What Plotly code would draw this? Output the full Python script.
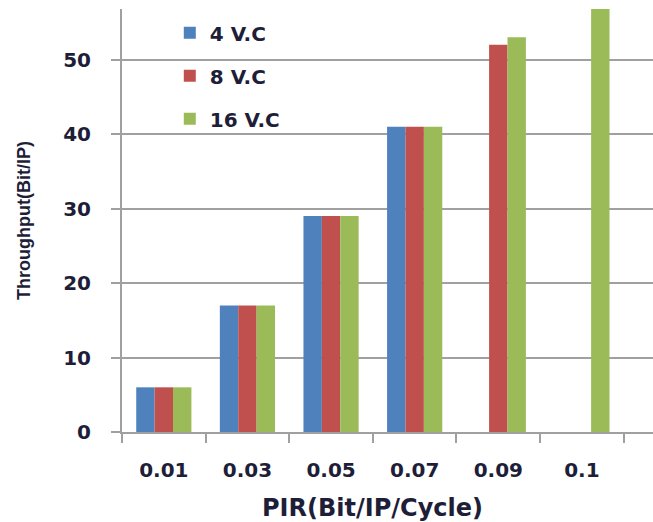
import plotly.graph_objects as go

# PIR categories and throughput per virtual-channel configuration
categories = ["0.01", "0.03", "0.05", "0.07", "0.09", "0.1"]
vc4 = [6, 17, 29, 41, None, None]
vc8 = [6, 17, 29, 41, 52, None]
vc16 = [6, 17, 29, 41, 53, 58]
y_ticks = [0, 10, 20, 30, 40, 50]

series = [
    ("4 V.C", vc4, "#4F81BD"),
    ("8 V.C", vc8, "#C0504D"),
    ("16 V.C", vc16, "#9BBB59"),
]

text_color = "#1e1e38"
axis_gray = "#a0a0a0"

fig = go.Figure()
for name, vals, color in series:
    fig.add_trace(go.Bar(
        x=categories, y=vals, name=name, legendgroup=name,
        marker=dict(color=color, line=dict(width=0)),
    ))

fig.update_layout(
    width=653, height=522,
    margin=dict(l=122, r=0, t=9, b=90),
    paper_bgcolor="white", plot_bgcolor="white",
    barmode="group", bargap=0.34, bargroupgap=0,
    font=dict(family="DejaVu Sans", color=text_color),
    showlegend=True,
    legend=dict(
        x=0.09, y=0.99, xanchor="left", yanchor="top",
        bgcolor="rgba(0,0,0,0)",
        traceorder="grouped", tracegroupgap=14,
        font=dict(size=20, family="DejaVu Sans", weight="bold", color=text_color),
        itemwidth=30,
    ),
)

fig.update_xaxes(
    type="category",
    range=[-0.5, 5.85],
    tickson="boundaries",
    ticks="outside", ticklen=9, tickwidth=2, tickcolor=axis_gray,
    showline=True, linecolor=axis_gray, linewidth=2,
    showgrid=False,
    ticklabelstandoff=19,
    tickfont=dict(size=20, family="DejaVu Sans", weight="bold", color=text_color),
)

fig.update_yaxes(
    range=[0, 56.8],
    tickvals=y_ticks,
    ticks="outside", ticklen=9, tickwidth=2, tickcolor=axis_gray,
    showline=True, linecolor=axis_gray, linewidth=2,
    showgrid=True, gridcolor=axis_gray, gridwidth=2,
    zeroline=False,
    ticklabelstandoff=16,
    tickfont=dict(size=20, family="DejaVu Sans", weight="bold", color=text_color),
    title=dict(
        text="Throughput(Bit/IP)", standoff=28,
        font=dict(size=18, family="Liberation Sans", weight="bold", color=text_color),
    ),
)

# x-axis title centred under the category span
fig.add_annotation(
    text="PIR(Bit/IP/Cycle)", xref="x", yref="paper",
    x=2.5, y=0, yshift=-76, showarrow=False,
    xanchor="center", yanchor="middle",
    font=dict(size=24, family="DejaVu Sans", weight="bold", color=text_color),
)

fig.write_html("out.html")
